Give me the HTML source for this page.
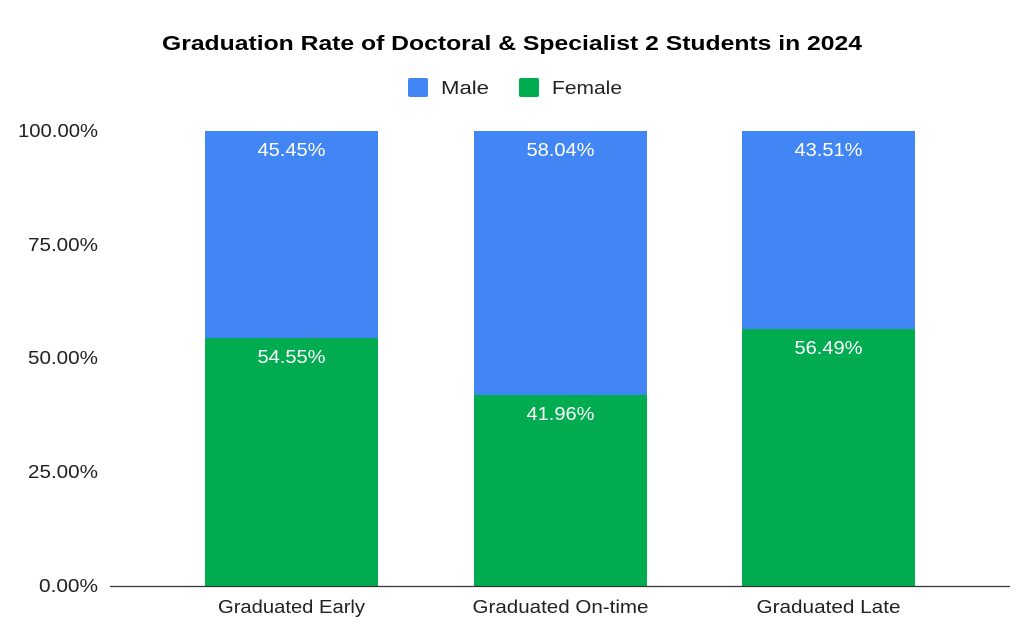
<!DOCTYPE html>
<html><head><meta charset="utf-8"><style>
body{margin:0;background:#fff;}
svg text{font-family:"Liberation Sans",Arial,sans-serif;}
</style></head><body>
<svg width="1024" height="629" viewBox="0 0 1024 629" xmlns="http://www.w3.org/2000/svg">
<rect width="1024" height="629" fill="#fff"/>
<text x="512" y="50" text-anchor="middle" font-size="20" font-weight="bold" fill="#000" textLength="700" lengthAdjust="spacingAndGlyphs">Graduation Rate of Doctoral &amp; Specialist 2 Students in 2024</text>
<rect x="408" y="78" width="20" height="19" rx="2" fill="#4285f4"/>
<text x="441" y="94" font-size="18" fill="#222" textLength="48" lengthAdjust="spacingAndGlyphs">Male</text>
<rect x="519" y="78" width="20" height="19" rx="2" fill="#00ac4f"/>
<text x="552" y="94" font-size="18" fill="#222" textLength="70" lengthAdjust="spacingAndGlyphs">Female</text>
<g font-size="18" fill="#222" text-anchor="end">
<text x="98" y="137" textLength="80" lengthAdjust="spacingAndGlyphs">100.00%</text>
<text x="98" y="251" textLength="70" lengthAdjust="spacingAndGlyphs">75.00%</text>
<text x="98" y="364" textLength="70" lengthAdjust="spacingAndGlyphs">50.00%</text>
<text x="98" y="478" textLength="70" lengthAdjust="spacingAndGlyphs">25.00%</text>
<text x="98" y="592" textLength="59" lengthAdjust="spacingAndGlyphs">0.00%</text>
</g>
<rect x="205" y="131" width="173" height="207" fill="#4285f4"/>
<rect x="205" y="338" width="173" height="248" fill="#00ac4f"/>
<rect x="474" y="131" width="173" height="264" fill="#4285f4"/>
<rect x="474" y="395" width="173" height="191" fill="#00ac4f"/>
<rect x="742" y="131" width="173" height="198" fill="#4285f4"/>
<rect x="742" y="329" width="173" height="257" fill="#00ac4f"/>
<line x1="110" y1="586.5" x2="1010" y2="586.5" stroke="#333" stroke-width="1.3"/>
<g font-size="18" fill="#fff" text-anchor="middle">
<text x="291.5" y="156" textLength="68" lengthAdjust="spacingAndGlyphs">45.45%</text>
<text x="291.5" y="363" textLength="68" lengthAdjust="spacingAndGlyphs">54.55%</text>
<text x="560.5" y="156" textLength="68" lengthAdjust="spacingAndGlyphs">58.04%</text>
<text x="560.5" y="420" textLength="68" lengthAdjust="spacingAndGlyphs">41.96%</text>
<text x="828.5" y="156" textLength="68" lengthAdjust="spacingAndGlyphs">43.51%</text>
<text x="828.5" y="354" textLength="68" lengthAdjust="spacingAndGlyphs">56.49%</text>
</g>
<g font-size="18" fill="#222" text-anchor="middle">
<text x="291.5" y="613" textLength="147" lengthAdjust="spacingAndGlyphs">Graduated Early</text>
<text x="560.5" y="613" textLength="176" lengthAdjust="spacingAndGlyphs">Graduated On-time</text>
<text x="828.5" y="613" textLength="144" lengthAdjust="spacingAndGlyphs">Graduated Late</text>
</g>
</svg>
</body></html>
